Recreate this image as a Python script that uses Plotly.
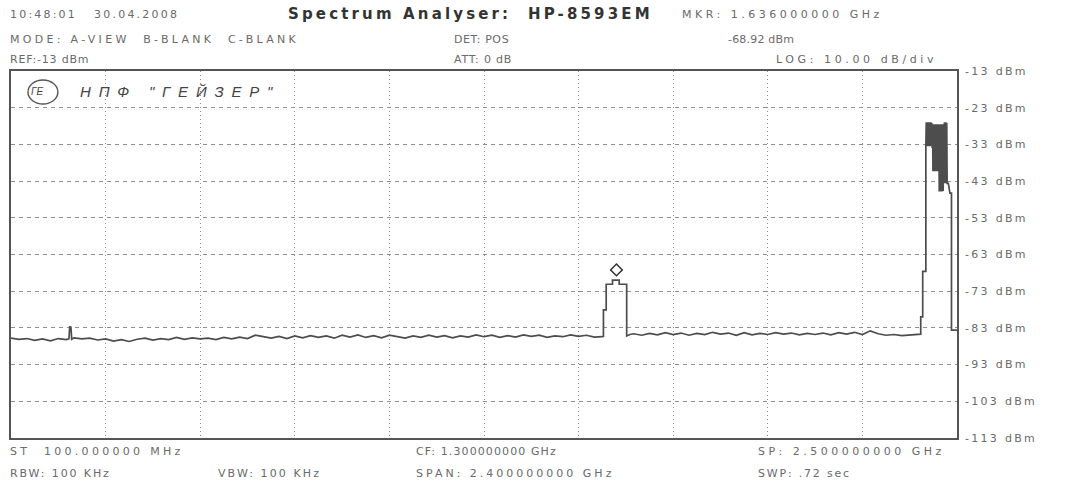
import plotly.graph_objects as go

# ---------------- data ----------------
# noise floor, start .. first carrier (MHz, dBm)
noise_a_freq = list(range(100, 1601, 20))
noise_a_dbm = [-85.8, -86.1, -85.9, -86.4, -86.0, -86.5, -85.9, -86.2, -85.7, -86.0,
               -85.8, -86.3, -86.0, -86.6, -86.2, -86.7, -86.1, -85.8, -86.3, -85.9,
               -86.2, -85.6, -86.1, -85.7, -86.0, -85.8, -86.2, -85.6, -86.0, -85.5,
               -85.9, -85.0, -85.4, -85.8, -85.3, -85.9, -85.2, -85.7, -85.1, -85.6,
               -85.2, -85.8, -85.0, -85.5, -84.9, -85.6, -85.1, -85.7, -85.0, -85.4,
               -85.8, -85.2, -85.6, -85.0, -85.5, -85.1, -85.7, -85.2, -85.5, -84.9,
               -85.4, -85.0, -85.6, -85.1, -85.5, -84.9, -85.3, -85.0, -85.6, -85.2,
               -85.4, -84.9, -85.3, -85.0, -85.5, -85.4]
# narrow spike near 250 MHz
spike_freq = [247, 249, 252, 254]
spike_dbm = [-86.0, -82.7, -82.8, -86.1]
# carrier around 1.636 GHz
carrier1_freq = [1603, 1603, 1610, 1610, 1626, 1626, 1643, 1643, 1662, 1662, 1670]
carrier1_dbm = [-85.3, -78.1, -78.1, -71.1, -71.1, -70.0, -70.0, -71.1, -71.1, -85.2, -84.8]
# noise floor between the carriers
noise_b_freq = list(range(1680, 2401, 20))
noise_b_dbm = [-84.6, -85.0, -84.5, -84.9, -84.3, -84.8, -84.4, -85.0, -84.5, -84.8,
               -84.2, -84.7, -84.4, -85.0, -84.3, -84.9, -84.5, -84.8, -84.3, -84.7,
               -84.4, -84.9, -84.5, -84.8, -84.4, -84.9, -84.3, -84.7, -84.2, -84.8,
               -83.8, -84.6, -85.0, -84.8, -85.1, -84.9, -84.7]
# wide band signal near the top of the span
band_rise_freq = [2408, 2408, 2413, 2413, 2421, 2421]
band_rise_dbm = [-84.7, -80.0, -80.0, -67.6, -67.6, -33.6]
band_freq = list(range(2422, 2476))
band_dbm = [-27.0, -33.5, -27.2, -33.0, -27.0, -33.5, -27.3, -33.2, -27.0, -33.5,
            -27.1, -33.4, -27.0, -33.3, -27.2, -34.0,
            -27.5, -40.3, -27.6, -40.0, -27.5, -40.3, -27.8, -40.1, -27.5, -40.3,
            -27.6, -40.2, -27.5, -40.3, -27.7, -40.0,
            -27.5, -45.8, -27.6, -45.5, -27.5, -45.8, -27.7, -45.6, -27.5, -45.8,
            -27.6, -45.7, -27.5,
            -43.6, -27.0, -43.4, -27.1, -43.6, -27.0, -43.5, -27.2, -43.6]
band_fall_freq = [2478, 2478, 2482, 2482, 2486, 2486, 2500]
band_fall_dbm = [-43.6, -43.6, -46.3, -46.3, -46.3, -83.6, -83.6]

marker_freq = [1636]
marker_dbm = [-67.2]

y_ticks = list(range(-113, -12, 10))
x_ticks = list(range(100, 2501, 240))

# merge trace
pairs = list(zip(noise_a_freq, noise_a_dbm)) + list(zip(spike_freq, spike_dbm))
pairs.sort(key=lambda p: p[0])
trace_f = [p[0] for p in pairs] + carrier1_freq + noise_b_freq + band_rise_freq + band_freq + band_fall_freq
trace_d = [p[1] for p in pairs] + carrier1_dbm + noise_b_dbm + band_rise_dbm + band_dbm + band_fall_dbm

# ---------------- layout helpers ----------------
W, H = 1074, 482
L, R, T, B = 9, 957, 71, 438

def xp(x):
    return (x - L) / (R - L)

def yp(y):
    return (B - y) / (B - T)

FONT = "DejaVu Sans"
GREY = "#6a6a6a"

def label(x, y, s, size=11, color=GREY, ls=0.5, bold=False, italic=False, family=FONT):
    s = s.replace(" ", "\u00a0")
    if bold:
        s = f"<b>{s}</b>"
    if italic:
        s = f"<i>{s}</i>"
    return dict(x=xp(x - 4), y=yp(y), xref="paper", yref="paper", xanchor="left", yanchor="middle",
                showarrow=False, text=f'<span style="letter-spacing:{ls}px">{s}</span>',
                font=dict(family=family, size=size, color=color))

fig = go.Figure()
fig.add_trace(go.Scatter(x=trace_f, y=trace_d, mode="lines",
                         line=dict(color="#4d4d4d", width=1.7), hoverinfo="skip",
                         showlegend=False))
fig.add_trace(go.Scatter(x=marker_freq, y=marker_dbm, mode="markers",
                         marker=dict(symbol="diamond-open", size=9, color="#333",
                                     line=dict(width=1.5, color="#333")),
                         showlegend=False))

annotations = [
    label(10, 14, "10:48:01   30.04.2008", ls=2.2),
    label(289, 14, "Spectrum Analyser:  HP-8593EM", size=15, color="#333", ls=3.15, bold=True),
    label(683, 15, "MKR: 1.636000000 GHz", ls=3.5),
    label(10, 40, "MODE: A-VIEW  B-BLANK  C-BLANK", ls=3.3),
    label(455, 40, "DET: POS", ls=0.6),
    label(730, 40, "-68.92 dBm", ls=0.2),
    label(10, 60, "REF:-13 dBm", ls=0.8),
    label(455, 60, "ATT: 0 dB", ls=0.8),
    label(778, 60, "LOG: 10.00 dB/div", ls=3.6),
    label(10, 452, "ST  100.000000 MHz", ls=3.3),
    label(417, 452, "CF: 1.300000000 GHz", ls=1.1),
    label(760, 452, "SP: 2.500000000 GHz", ls=3.5),
    label(10, 473, "RBW: 100 KHz", ls=1.9),
    label(218, 473, "VBW: 100 KHz", ls=2.1),
    label(417, 473, "SPAN: 2.400000000 GHz", ls=3.0),
    label(760, 473, "SWP: .72 sec", ls=1.8),
    label(80, 92, 'НПФ "ГЕЙЗЕР"', size=15, color="#444", ls=7.8, italic=True,
          family="Liberation Sans"),
    label(31, 92, "ГЕ", size=10, color="#444", ls=0, italic=True, family="Liberation Sans"),
]

shapes = [
    dict(type="circle", xref="paper", yref="paper", x0=xp(26), x1=xp(56), y0=yp(104), y1=yp(80),
         line=dict(color="#555", width=1.4)),
]

fig.update_layout(
    width=W, height=H,
    margin=dict(l=L, r=W - R, t=T, b=H - B, pad=0),
    paper_bgcolor="white", plot_bgcolor="white",
    annotations=annotations, shapes=shapes,
    xaxis=dict(range=[100, 2500], tickvals=x_ticks, showticklabels=False, ticks="",
               showgrid=True, gridcolor="#8f8f8f", gridwidth=1, griddash="1px,3px",
               showline=True, mirror=True, linecolor="#555", linewidth=1.6, zeroline=False),
    yaxis=dict(range=[-113, -13], tickvals=y_ticks,
               ticktext=[f'<span style="letter-spacing:2.3px">{v} dBm</span>' for v in y_ticks],
               side="right", ticks="", ticklabelstandoff=4,
               tickfont=dict(family=FONT, size=11, color=GREY),
               showgrid=True, gridcolor="#8f8f8f", gridwidth=1, griddash="4px,4px",
               showline=True, mirror=True, linecolor="#555", linewidth=1.6, zeroline=False),
)

fig.write_html("out.html")
